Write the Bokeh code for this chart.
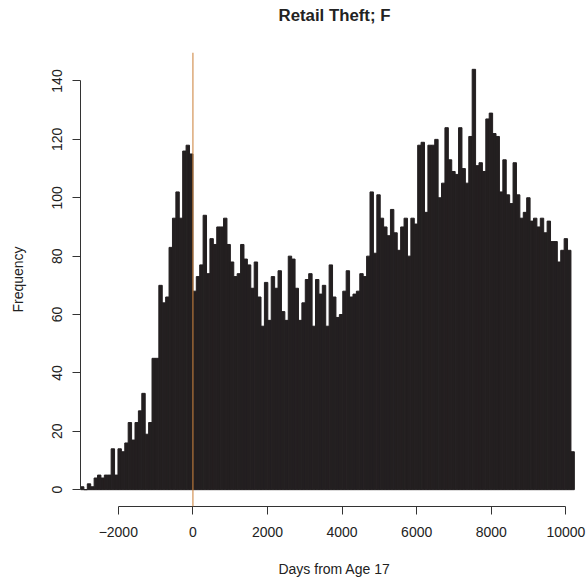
from bokeh.plotting import figure
from bokeh.models import Span, FixedTicker, Range1d, ColumnDataSource
from bokeh.embed import file_html
from bokeh.resources import INLINE

# ---- data ----
counts_before_17 = [1, 0, 2, 1, 4, 5, 4, 5, 5, 14, 5, 14, 13, 16, 23, 17, 23, 27, 33, 19,
                    23, 45, 45, 70, 64, 66, 83, 93, 102, 93, 116, 118, 115]
counts_after_17 = [68, 73, 77, 94, 74, 86, 84, 90, 90, 93, 84, 78, 73, 74, 84, 79, 77, 69, 78, 66,
                   56, 71, 58, 73, 69, 75, 61, 58, 80, 79, 69, 58, 64, 72, 74, 56, 72, 67, 70,
                   56, 77, 66, 59, 60, 68, 75, 66, 67, 68, 74, 73, 80,
                   102, 81, 101, 93, 90, 87, 96, 88, 82, 90, 93, 80, 93, 91, 118, 119, 95, 118,
                   118, 120, 100, 105, 124,
                   113, 109, 108, 124, 110, 105, 121, 144, 111, 112, 109, 127, 129, 122, 121,
                   102, 113, 101, 98, 112, 101, 93, 95, 100, 92, 93, 90, 93, 88, 92, 85, 85,
                   78, 82, 86, 82, 13]
counts = counts_before_17 + counts_after_17
bin_width_days = 365.25 / 4          # quarter-year bins
first_bin_index = -len(counts_before_17)

x_ticks = [-2000, 0, 2000, 4000, 6000, 8000, 10000]
y_ticks = [0, 20, 40, 60, 80, 100, 120, 140]
title_text = "Retail Theft; F"
x_label = "Days from Age 17"
y_label = "Frequency"

lefts = [(first_bin_index + i) * bin_width_days for i in range(len(counts))]
rights = [l + bin_width_days for l in lefts]
src = ColumnDataSource(dict(left=lefts, right=rights, top=counts, bottom=[0] * len(counts)))

FONT = "Liberation Sans"
x_start = lefts[0]
x_end = x_start + 508 * 26.81

p = figure(width=588, height=579, output_backend="svg", toolbar_location=None,
           x_range=Range1d(x_start, x_end), y_range=Range1d(-5.76, 149.76),
           min_border_left=80, min_border_right=0, min_border_top=52, min_border_bottom=71)
p.outline_line_color = None
p.xgrid.visible = False
p.ygrid.visible = False
p.background_fill_color = "white"
p.border_fill_color = "white"

# title: a blank second line keeps it higher above the plot frame
p.title.text = title_text + "\n\u00a0"
p.title.align = "center"
p.title.vertical_align = "top"
p.title.text_font = FONT
p.title.text_font_size = "16.8px"
p.title.text_font_style = "bold"
p.title.text_color = "#222222"
p.title.text_line_height = 1.35
p.title.standoff = 0

p.quad(left="left", right="right", top="top", bottom="bottom", source=src,
       fill_color="#231f20", line_color="#231f20", line_width=1.0)

p.add_layout(Span(location=0, dimension="height", line_color="#cd853f",
                  line_alpha=0.7, line_width=1.5))

for ax in (p.xaxis[0], p.yaxis[0]):
    ax.axis_line_color = "#333333"
    ax.major_tick_line_color = "#333333"
    ax.major_tick_in = 0
    ax.major_tick_out = 8
    ax.minor_tick_line_color = None
    ax.major_label_text_font = FONT
    ax.major_label_text_font_size = "14px"
    ax.major_label_text_color = "#222222"
    ax.axis_label_text_font = FONT
    ax.axis_label_text_font_size = "14px"
    ax.axis_label_text_font_style = "normal"
    ax.axis_label_text_color = "#222222"

xa = p.xaxis[0]
xa.ticker = FixedTicker(ticks=x_ticks)
xa.bounds = (x_ticks[0], x_ticks[-1])
xa.major_label_overrides = {t: (str(t).replace("-", "\u2212")) for t in x_ticks}
xa.major_label_standoff = 12
xa.axis_label = x_label
xa.axis_label_standoff = 21

ya = p.yaxis[0]
ya.ticker = FixedTicker(ticks=y_ticks)
ya.bounds = (y_ticks[0], y_ticks[-1])
ya.major_label_orientation = "vertical"
ya.major_label_standoff = 10
ya.axis_label = y_label
ya.axis_label_standoff = 24

open("out.html", "w").write(file_html(p, INLINE))
